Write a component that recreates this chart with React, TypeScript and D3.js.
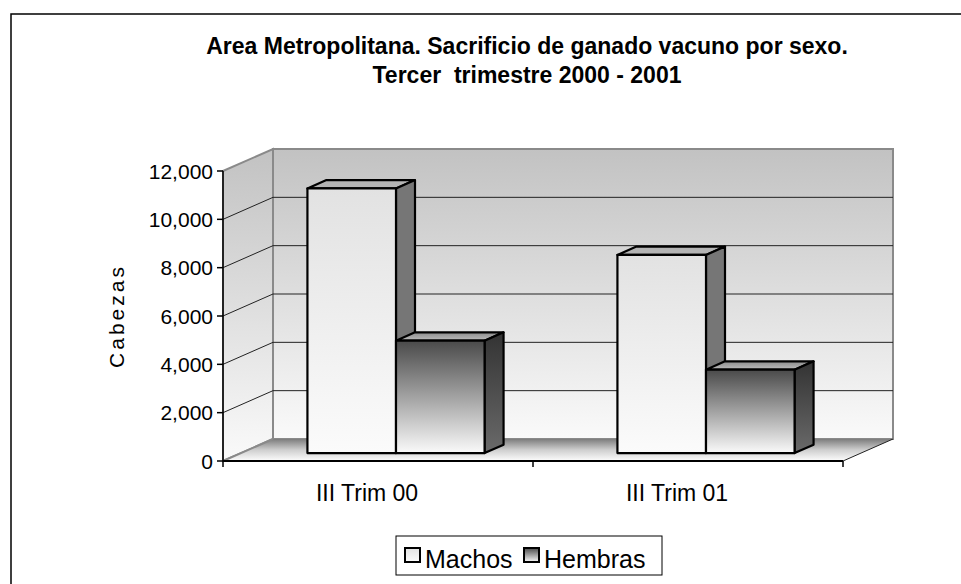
import React, { useEffect, useRef } from 'react';
import * as d3 from 'd3';

// Chart values
const categories = ['III Trim 00', 'III Trim 01'];
const seriesNames = ['Machos', 'Hembras'];
const machos = [10950, 8200];
const hembras = [4650, 3450];
const yTicks = [0, 2000, 4000, 6000, 8000, 10000, 12000];
const titleLines = ['Area Metropolitana. Sacrificio de ganado vacuno por sexo.', 'Tercer  trimestre 2000 - 2001'];

const App = () => {
    const svgRef = useRef<SVGSVGElement>(null);

    useEffect(() => {
        const svg = d3.select(svgRef.current);
        svg.selectAll('*').remove();

        const font = 'Arial, "Liberation Sans", sans-serif';
        // front plane geometry and 3D depth offset
        const x0 = 223, x1 = 843, yBase = 461, yTop = 171;
        const dx = 50, dy = -22;
        const f0 = 0.36, f1 = 0.74; // bar depth (fraction of floor depth)

        const yScale = d3.scaleLinear().domain([0, 12000]).range([yBase, yTop]);
        const xScale = d3.scaleBand().domain(categories).range([x0, x1]).padding(0);
        const groupW = xScale.bandwidth() * 2 / 3.5;
        const xInner = d3.scaleBand().domain(seriesNames).range([0, groupW]).padding(0);

        const defs = svg.append('defs');
        const grad = (id, stops, x2 = '0', y2 = '1') => {
            const g = defs.append('linearGradient').attr('id', id)
                .attr('x1', 0).attr('y1', 0).attr('x2', x2).attr('y2', y2);
            stops.forEach(([o, c]) => g.append('stop').attr('offset', o).attr('stop-color', c));
        };
        grad('wall', [[0, '#c2c2c2'], [1, '#fafafa']]);
        grad('floor', [[0, '#7c7c7c'], [0.5, '#cfcfcf'], [1, '#fdfdfd']]);
        grad('mFront', [[0, '#e2e2e2'], [1, '#fbfbfb']]);
        grad('hFront', [[0, '#4a4a4a'], [1, '#fafafa']]);
        grad('hSide', [[0, '#333'], [1, '#6a6a6a']]);
        grad('hTop', [[0, '#8c8c8c'], [1, '#bdbdbd']]);

        // outer frame
        svg.append('rect').attr('x', 11).attr('y', 14).attr('width', 980).attr('height', 600)
            .attr('fill', '#fff').attr('stroke', '#000').attr('stroke-width', 1.5);

        // title
        titleLines.forEach((t, i) => {
            svg.append('text').attr('x', 527).attr('y', 54 + i * 29)
                .attr('text-anchor', 'middle').attr('font-family', font)
                .attr('font-weight', 'bold').attr('font-size', 23)
                .attr('xml:space', 'preserve').style('white-space', 'pre')
                .text(t);
        });

        const pts = (arr) => arr.map(p => p.join(',')).join(' ');
        const yb = (v) => yScale(v) + dy;

        // back wall
        svg.append('rect').attr('x', x0 + dx).attr('y', yb(12000))
            .attr('width', x1 - x0).attr('height', yScale(0) - yScale(12000))
            .attr('fill', 'url(#wall)').attr('stroke', '#8a8a8a').attr('stroke-width', 2);
        // side wall
        svg.append('polygon')
            .attr('points', pts([[x0, yScale(0)], [x0, yScale(12000)], [x0 + dx, yb(12000)], [x0 + dx, yb(0)]]))
            .attr('fill', 'url(#wall)').attr('stroke', '#8a8a8a').attr('stroke-width', 2);

        // gridlines
        yTicks.filter(v => v > 0 && v < 12000).forEach(v => {
            svg.append('line').attr('x1', x0 + dx).attr('x2', x1 + dx).attr('y1', yb(v)).attr('y2', yb(v))
                .attr('stroke', '#222').attr('stroke-width', 1);
            svg.append('line').attr('x1', x0).attr('x2', x0 + dx).attr('y1', yScale(v)).attr('y2', yb(v))
                .attr('stroke', '#222').attr('stroke-width', 1);
        });

        // floor
        svg.append('polygon')
            .attr('points', pts([[x0, yBase], [x1, yBase], [x1 + dx, yb(0)], [x0 + dx, yb(0)]]))
            .attr('fill', 'url(#floor)').attr('stroke', 'none');
        svg.append('line').attr('x1', x0 + dx).attr('x2', x0).attr('y1', yb(0)).attr('y2', yBase)
            .attr('stroke', '#8a8a8a').attr('stroke-width', 2);
        svg.append('line').attr('x1', x1).attr('x2', x1 + dx).attr('y1', yBase).attr('y2', yb(0))
            .attr('stroke', '#222').attr('stroke-width', 1);

        // axes
        svg.append('line').attr('x1', x0).attr('x2', x1).attr('y1', yBase).attr('y2', yBase)
            .attr('stroke', '#000').attr('stroke-width', 2);
        svg.append('line').attr('x1', x0).attr('x2', x0).attr('y1', yTop).attr('y2', yBase)
            .attr('stroke', '#000').attr('stroke-width', 1.5);
        yTicks.forEach(v => {
            svg.append('line').attr('x1', x0 - 6).attr('x2', x0).attr('y1', yScale(v)).attr('y2', yScale(v))
                .attr('stroke', '#000').attr('stroke-width', 1.5);
            svg.append('text').attr('x', x0 - 10).attr('y', yScale(v)).attr('dy', '0.36em')
                .attr('text-anchor', 'end').attr('font-family', font).attr('font-size', 21)
                .text(d3.format(',')(v));
        });
        [x0, x0 + xScale.bandwidth(), x1].forEach(x => {
            svg.append('line').attr('x1', x).attr('x2', x).attr('y1', yBase).attr('y2', yBase + 6)
                .attr('stroke', '#000').attr('stroke-width', 1.5);
        });
        categories.forEach(c => {
            svg.append('text').attr('x', xScale(c) + xScale.bandwidth() / 2 - 11).attr('y', 501)
                .attr('text-anchor', 'middle').attr('font-family', font).attr('font-size', 23)
                .text(c);
        });

        // y axis title
        svg.append('text').attr('transform', 'translate(124,316) rotate(-90)')
            .attr('text-anchor', 'middle').attr('font-family', font).attr('font-size', 21)
            .attr('letter-spacing', 3).text('Cabezas');

        // bars
        const ox = dx * f0, oy = dy * f0;
        const bx = dx * (f1 - f0), by = dy * (f1 - f0);
        const styles = {
            Machos: { front: 'url(#mFront)', top: '#b4b4b4', side: '#767676' },
            Hembras: { front: 'url(#hFront)', top: 'url(#hTop)', side: 'url(#hSide)' },
        };
        categories.forEach((c, i) => {
            const values = { Machos: machos[i], Hembras: hembras[i] };
            seriesNames.forEach(s => {
                const l = xScale(c) + (xScale.bandwidth() - groupW) / 2 + xInner(s) + ox;
                const r = l + xInner.bandwidth();
                const t = yScale(values[s]) + oy;
                const b = yScale(0) + oy;
                const g = svg.append('g').attr('stroke', '#000').attr('stroke-width', 2.2)
                    .attr('stroke-linejoin', 'round');
                g.append('polygon').attr('points', pts([[l, t], [r, t], [r + bx, t + by], [l + bx, t + by]]))
                    .attr('fill', styles[s].top);
                g.append('polygon').attr('points', pts([[r, t], [r + bx, t + by], [r + bx, b + by], [r, b]]))
                    .attr('fill', styles[s].side);
                g.append('rect').attr('x', l).attr('y', t).attr('width', r - l).attr('height', b - t)
                    .attr('fill', styles[s].front);
            });
        });

        // legend
        svg.append('rect').attr('x', 396).attr('y', 536).attr('width', 266).attr('height', 39)
            .attr('fill', '#fff').attr('stroke', '#000').attr('stroke-width', 1);
        const legX = [405, 524];
        seriesNames.forEach((s, i) => {
            svg.append('rect').attr('x', legX[i]).attr('y', 548).attr('width', 15).attr('height', 14)
                .attr('fill', s === 'Machos' ? 'url(#mFront)' : 'url(#hFront)')
                .attr('stroke', '#000').attr('stroke-width', 2);
            svg.append('text').attr('x', legX[i] + 20).attr('y', 568)
                .attr('font-family', font).attr('font-size', 25).text(s);
        });
    }, []);

    return (
        <svg ref={svgRef} width={961} height={584}
            style={{ position: 'absolute', left: 0, top: 0, background: '#fff' }} />
    );
};

export default App;
